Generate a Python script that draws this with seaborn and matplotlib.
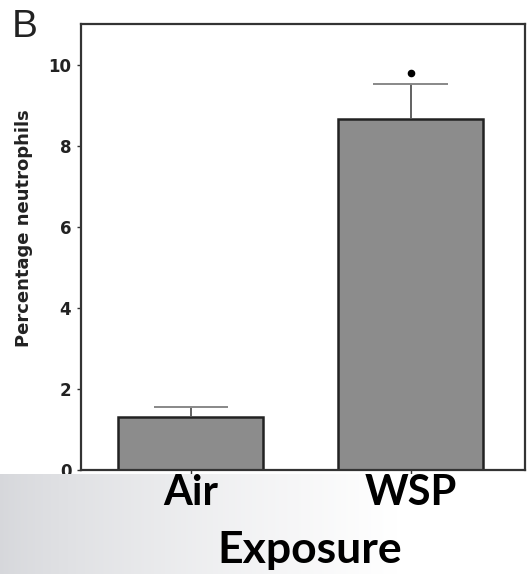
import matplotlib
matplotlib.use("Agg")
import matplotlib.pyplot as plt
import seaborn as sns
import numpy as np
import pandas as pd
from matplotlib.transforms import blended_transform_factory

categories = ["Air", "WSP"]
means = [1.3, 8.65]
errors = [0.25, 0.88]
significant = [False, True]
y_ticks = [0, 2, 4, 6, 8, 10]
y_label = "Percentage neutrophils"
x_label = "Exposure"
panel = "B"

sns.set_theme(style="white")
plt.rcParams['font.family'] = ['DejaVu Sans']

W, H = 528, 574
fig = plt.figure(figsize=(W / 100, H / 100), dpi=100)
ax = fig.add_axes([81 / W, 1 - 470 / H, (525 - 81) / W, (470 - 24) / H])
df = pd.DataFrame({"Exposure": categories, "value": means})
sns.barplot(data=df, x="Exposure", y="value", ax=ax, color="#8c8c8c", saturation=1,
            width=0.66, edgecolor="#222222", linewidth=1.8, errorbar=None)

x = np.arange(len(categories))
m = np.array(means)
tops = m + np.array(errors)
ax.vlines(x, m, tops, color="#555555", lw=1.3, zorder=4)
ax.hlines(tops, x - 0.17, x + 0.17, color="#888888", lw=1.4, zorder=4)
sig = np.array(significant)
ax.scatter(x[sig], tops[sig] + 0.25, s=20, color="black", zorder=5)

ax.set_xlim(-0.5, 1.52)
ax.set_ylim(0, 11)
ax.set_yticks(y_ticks)
ax.set_yticklabels([str(t) for t in y_ticks], fontsize=12, fontweight="bold", color="#222222")
ax.set_xticks(x)
ax.set_xticklabels([])
ax.set_xlabel("")
ax.set_ylabel(y_label, fontsize=13, fontweight="bold", color="#222222")
ax.yaxis.set_label_coords(-0.108, (470 - 228) / 446)
ax.tick_params(axis="y", direction="out", length=3, width=1, color="#333333", left=True, pad=4)
ax.tick_params(axis="x", direction="out", length=4, width=1, color="#333333", bottom=True)
for s in ax.spines.values():
    s.set_color("#333333")
    s.set_linewidth(1.6)

# gradient band at bottom
band = fig.add_axes([0, 0, 1, (574 - 474) / H], zorder=2)
grad = np.linspace(0, 1, 256)
c_left = np.array([0.84, 0.845, 0.86])
c_right = np.array([1.0, 1.0, 1.0])
t = np.clip(grad / 0.75, 0, 1) ** 0.8
img = c_left[None, :] * (1 - t[:, None]) + c_right[None, :] * t[:, None]
band.imshow(img[None, :, :], aspect="auto", extent=[0, 1, 0, 1])
band.axis("off")

trans = blended_transform_factory(ax.transData, fig.transFigure)
for xi, c in zip(x, categories):
    fig.text(xi, 1 - 493 / H, c, transform=trans, ha="center", va="center",
             fontsize=30, fontweight="bold", family="Lato", color="black", zorder=5)
fig.text(310 / W, 1 - 550 / H, x_label, ha="center", va="center",
         fontsize=32, fontweight="bold", family="Lato", color="black", zorder=5)

fig.text(25 / W, 1 - 27 / H, panel, ha="center", va="center", fontsize=28,
         family="Liberation Sans", color="#222222")

fig.savefig("out.png", dpi=100)
